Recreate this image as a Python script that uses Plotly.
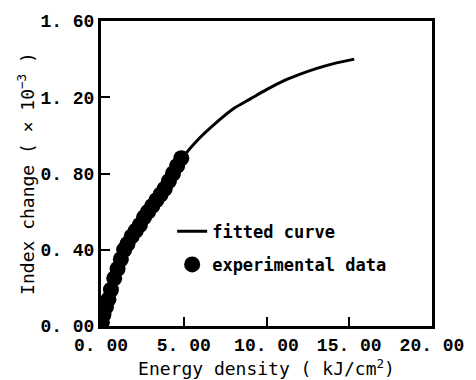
import plotly.graph_objects as go

# fitted curve
curve_x = [0, 0.5, 1, 1.5, 2, 3, 4, 5, 6, 7, 8, 9, 10, 11, 12, 13, 14, 15.3]
curve_y = [0, 0.15, 0.29, 0.40, 0.48, 0.62, 0.75, 0.89, 0.99, 1.07, 1.14, 1.19,
           1.24, 1.285, 1.32, 1.35, 1.375, 1.40]

data_x = [0.05, 0.15, 0.3, 0.45, 0.6, 0.8, 1.0, 1.2, 1.4, 1.6, 1.85, 2.1, 2.35,
          2.6, 2.85, 3.1, 3.35, 3.6, 3.85, 4.1, 4.35, 4.6, 4.85]
data_y = [0.02, 0.06, 0.10, 0.14, 0.19, 0.25, 0.30, 0.35, 0.40, 0.43, 0.47, 0.50,
          0.53, 0.57, 0.60, 0.63, 0.66, 0.69, 0.72, 0.76, 0.80, 0.84, 0.88]

x_ticks = [0, 5, 10, 15, 20]
x_ticklabels = ["0. 00", "5. 00", "10. 00", "15. 00", "20. 00"]
y_ticks = [0, 0.4, 0.8, 1.2, 1.6]
y_ticklabels = ["0. 00", "0. 40", "0. 80", "1. 20", "1. 60"]

fig = go.Figure()
fig.add_trace(go.Scatter(
    x=curve_x, y=curve_y, mode="lines", name="fitted curve",
    line=dict(color="black", width=3, shape="spline"),
    legendgroup="a",
))
fig.add_trace(go.Scatter(
    x=data_x, y=data_y, mode="markers", name="experimental data",
    marker=dict(color="black", size=16),
    legendgroup="b",
))

tickfont = dict(family="Liberation Mono", size=18, color="black", weight="bold")
titlefont = dict(family="DejaVu Sans Mono", size=18, color="black")

fig.update_layout(
    width=476, height=380,
    margin=dict(l=101, r=37, t=15, b=49),
    paper_bgcolor="white", plot_bgcolor="white",
    showlegend=True,
    legend=dict(
        x=0.215, y=0.368, xanchor="left", yanchor="top",
        bgcolor="rgba(0,0,0,0)",
        font=dict(family="DejaVu Sans Mono", size=17, color="black", weight="bold"),
        tracegroupgap=8,
    ),
    xaxis=dict(
        range=[0, 20], tickvals=x_ticks, ticktext=x_ticklabels,
        ticks="inside", ticklen=9, tickwidth=2, tickcolor="black",
        showline=True, linewidth=3, linecolor="black", mirror=True,
        showgrid=False, zeroline=False, tickfont=tickfont,
        title=dict(text="Energy density ( kJ/cm<sup>2</sup>)", font=titlefont, standoff=0),
    ),
    yaxis=dict(
        range=[0, 1.6], tickvals=y_ticks, ticktext=y_ticklabels,
        ticks="inside", ticklen=9, tickwidth=2, tickcolor="black",
        showline=True, linewidth=3, linecolor="black", mirror=True,
        showgrid=False, zeroline=False, tickfont=tickfont,
        title=dict(text="Index change ( × 10<sup>−3</sup> )", font=titlefont, standoff=2),
    ),
)

fig.write_html(
    "out.html",
    config={"displayModeBar": False},
    post_script="document.body.style.margin='0';document.body.style.overflow='hidden';",
)
